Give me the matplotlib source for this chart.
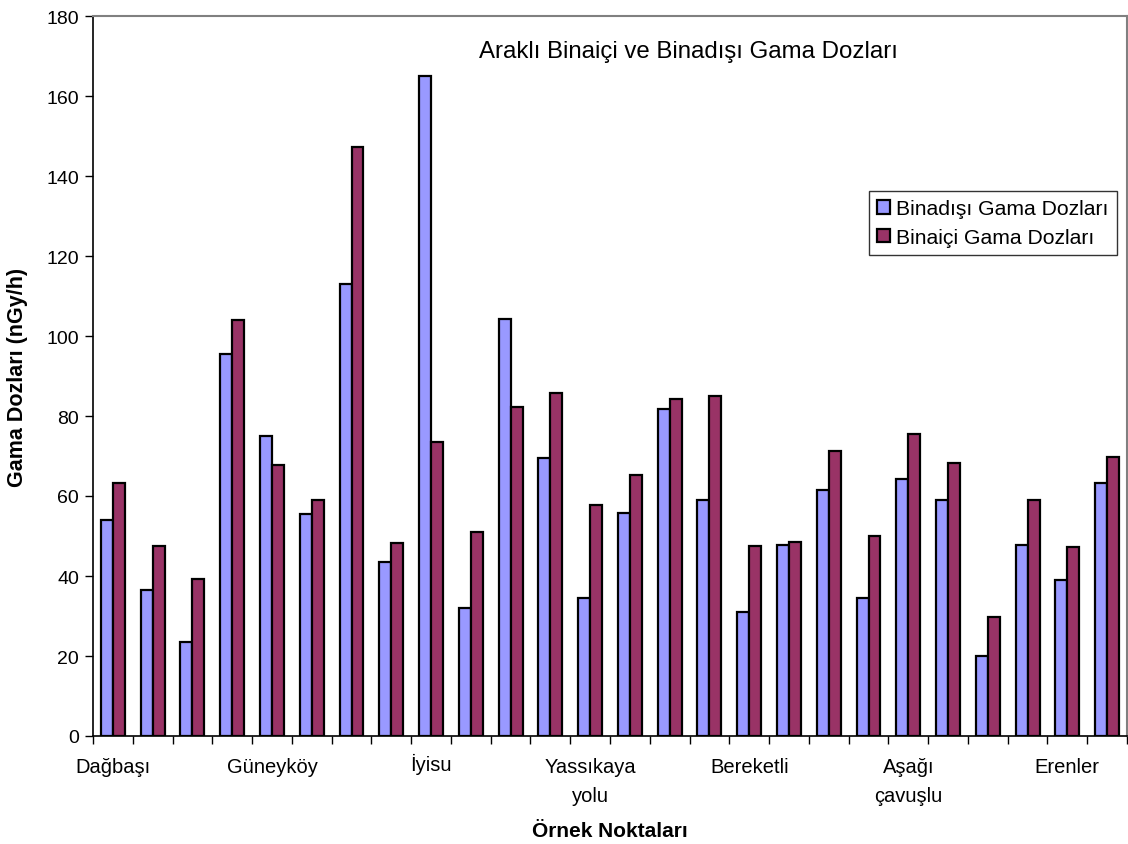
import matplotlib
matplotlib.use("Agg")
import matplotlib.pyplot as plt
import matplotlib.transforms as mtransforms
import numpy as np

plt.rcParams['font.family'] = ['Liberation Sans', 'DejaVu Sans']

# sample points (26), labels only shown every 4th point
site_labels = ['Dağbaşı', 'Güneyköy', 'İyisu', 'Yassıkaya\nyolu',
               'Bereketli', 'Aşağı\nçavuşlu', 'Erenler']
label_pos = [0, 4, 8, 12, 16, 20, 24]

outdoor = [54, 36.5, 23.5, 95.5, 75, 55.5, 113, 43.5, 165, 32, 104.2, 69.5, 34.5,
           55.7, 81.7, 59.1, 31, 47.7, 61.5, 34.5, 64.2, 59, 20, 47.7, 39, 63.3]
indoor = [63.2, 47.5, 39.3, 104, 67.7, 59, 147.3, 48.3, 73.4, 51, 82.3, 85.7, 57.8,
          65.2, 84.3, 85.1, 47.5, 48.5, 71.2, 50, 75.6, 68.2, 29.8, 58.9, 47.2, 69.7]

x = np.arange(len(outdoor))
w = 0.3

fig = plt.figure(figsize=(11.28, 8.45), dpi=100)
ax = fig.add_axes([93/1128, 1 - 737/845, (1127-93)/1128, (737-17)/845])

ax.bar(x - w/2, outdoor, w, color='#9999FF', edgecolor='black', linewidth=1.6,
       label='Binadışı Gama Dozları')
ax.bar(x + w/2, indoor, w, color='#993366', edgecolor='black', linewidth=1.6,
       label='Binaiçi Gama Dozları')

ax.set_xlim(-0.5, len(x) - 0.5)
ax.set_ylim(0, 180)
ax.set_yticks(range(0, 181, 20))

# tick marks between categories, labels under selected points
ax.set_xticks(np.arange(-0.5, len(x), 1.0), minor=True)
ax.set_xticks(label_pos)
ax.set_xticklabels(site_labels, fontsize=14.5, linespacing=1.7)
ax.tick_params(axis='x', which='major', length=0, pad=15)
ax.tick_params(axis='x', which='minor', length=6, width=1, direction='out')
ax.tick_params(axis='y', labelsize=14, length=6, width=1, direction='out', pad=4)

# the dot on İ makes that label sit lower; nudge it back up
lab = ax.get_xticklabels()[2]
lab.set_transform(lab.get_transform() +
                  mtransforms.ScaledTranslation(0, 0.04, fig.dpi_scale_trans))

for s in ['top', 'right']:
    ax.spines[s].set_color('#808080')
    ax.spines[s].set_linewidth(1.5)
for s in ['left', 'bottom']:
    ax.spines[s].set_linewidth(1.2)

ax.set_xlabel('Örnek Noktaları', fontsize=15, fontweight='bold', va='center')
ax.xaxis.set_label_coords(0.5, -(832 - 737) / 720)
ax.set_ylabel('Gama Dozları (nGy/h)', fontsize=15.5, fontweight='bold', va='center')
ax.yaxis.set_label_coords(-(93 - 18) / 1034, 0.5)

ax.text((688 - 93) / 1034, 1 - (52 - 17) / 720, 'Araklı Binaiçi ve Binadışı Gama Dozları',
        transform=ax.transAxes, ha='center', va='center', fontsize=17.3)

leg = ax.legend(loc='upper left', bbox_to_anchor=((869-93)/1034, 1 - (192-17)/720),
                fontsize=15.2, frameon=True, fancybox=False, edgecolor='black',
                handlelength=0.6, handleheight=0.6, handletextpad=0.3,
                borderpad=0.4, labelspacing=0.45, borderaxespad=0)
leg.get_frame().set_linewidth(1.0)

fig.savefig('out.png', dpi=100)
